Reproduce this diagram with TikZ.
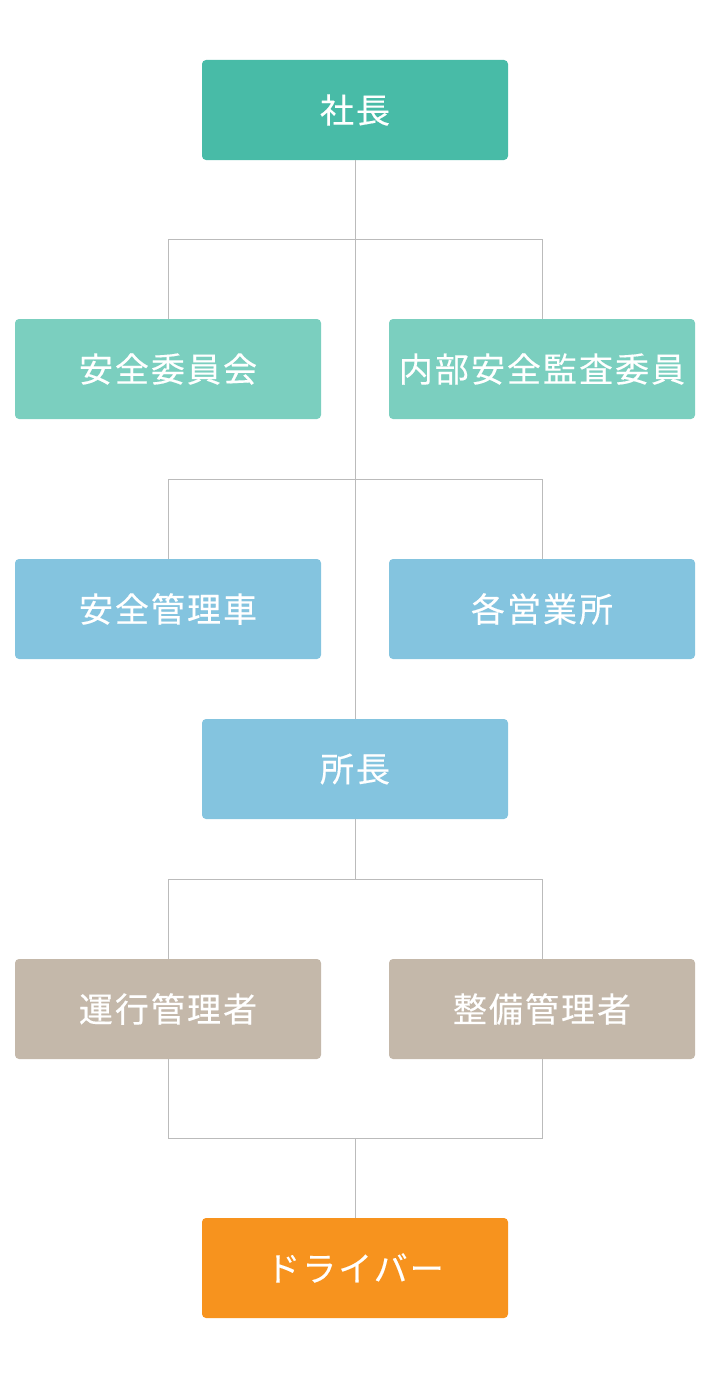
\documentclass[tikz,border=0pt]{standalone}
\usepackage{fontspec}
\newfontfamily\jp[LetterSpace=6,FakeBold=0.3]{Noto Sans CJK JP}
\definecolor{cTop}{HTML}{48BBA7}
\definecolor{cGreen}{HTML}{7BCFBF}
\definecolor{cBlue}{HTML}{84C4DF}
\definecolor{cBeige}{HTML}{C4B8AA}
\definecolor{cOrange}{HTML}{F7931E}
\definecolor{cLine}{HTML}{BBBBBB}
\tikzset{
  orgbox/.style={rounded corners=4pt, minimum width=306pt, minimum height=100pt, inner sep=0pt, text=white, font=\jp\fontsize{34}{38}\selectfont},
  conn/.style={draw=cLine, line width=1pt}
}
\begin{document}
\begin{tikzpicture}[x=1pt,y=-1pt]
\useasboundingbox (0,0) rectangle (710,1378);
% nodes
\node[orgbox, fill=cTop] (pres) at (355,110) {社長};
\node[orgbox, fill=cGreen] (comm) at (168,369) {安全委員会};
\node[orgbox, fill=cGreen] (audit) at (542,369) {内部安全監査委員};
\node[orgbox, fill=cBlue] (safe) at (168,609) {安全管理車};
\node[orgbox, fill=cBlue] (office) at (542,609) {各営業所};
\node[orgbox, fill=cBlue] (chief) at (355,769) {所長};
\node[orgbox, fill=cBeige] (ops) at (168,1009) {運行管理者};
\node[orgbox, fill=cBeige] (maint) at (542,1009) {整備管理者};
\node[orgbox, fill=cOrange] (drv) at (355,1268) {ドライバー};
% junction coordinates
\coordinate (j1) at (355,239.5);
\coordinate (j2) at (355,479.5);
\coordinate (j3) at (355,879.5);
\coordinate (j4) at (355,1138.5);
% connectors
\draw[conn] (pres.south) -- (chief.north);
\draw[conn] (comm.north) |- (j1) -| (audit.north);
\draw[conn] (safe.north) |- (j2) -| (office.north);
\draw[conn] (chief.south) -- (j3);
\draw[conn] (ops.north) |- (j3) -| (maint.north);
\draw[conn] (ops.south) |- (j4) -| (maint.south);
\draw[conn] (j4) -- (drv.north);
\end{tikzpicture}
\end{document}
